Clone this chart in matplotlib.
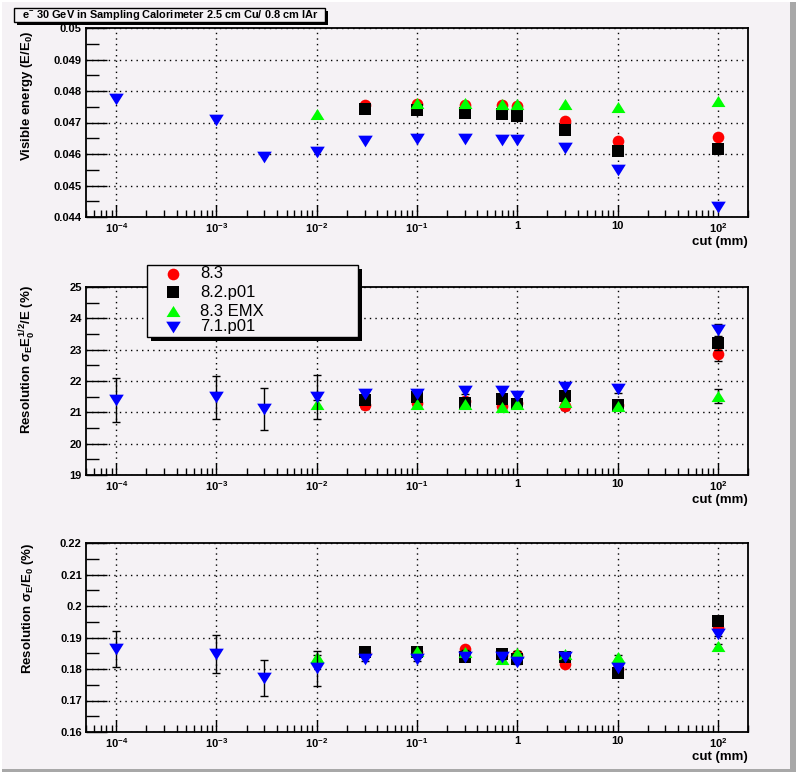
import matplotlib
matplotlib.use('Agg')
import matplotlib.pyplot as plt
from matplotlib.patches import Rectangle

plt.rcParams.update({
    'font.family': ['Liberation Sans', 'DejaVu Sans'],
    'mathtext.fontset': 'custom',
    'mathtext.rm': 'Liberation Sans:bold',
    'mathtext.it': 'Liberation Sans:bold',
    'mathtext.bf': 'Liberation Sans:bold',
    'mathtext.sf': 'Liberation Sans:bold',
})

BG = '#f5f2f5'

# cut values (mm)
X_71 = [1e-4, 1e-3, 3e-3, 1e-2, 3e-2, 0.1, 0.3, 0.7, 1, 3, 10, 100]
X_NEW = [3e-2, 0.1, 0.3, 0.7, 1, 3, 10, 100]
X_EMX = [1e-2, 0.1, 0.3, 0.7, 1, 3, 10, 100]

# visible energy E/E0
vis_83 = [0.04756, 0.04758, 0.04757, 0.04755, 0.04752, 0.04705, 0.04641, 0.04653]
vis_82 = [0.04743, 0.04740, 0.04731, 0.04727, 0.04722, 0.04676, 0.04610, 0.04617]
vis_emx = [0.04726, 0.04761, 0.04761, 0.04759, 0.04760, 0.04758, 0.04750, 0.04769]
vis_71 = [0.04776, 0.04708, 0.04590, 0.04605, 0.04641, 0.04647, 0.04647,
          0.04644, 0.04644, 0.04620, 0.04549, 0.04431]

# resolution sigma_E sqrt(E0)/E (%)
res_83 = [21.23, 21.30, 21.35, 21.20, 21.30, 21.20, 21.25, 22.85]
res_83_err = [0.12, 0.12, 0.12, 0.12, 0.12, 0.12, 0.12, 0.20]
res_82 = [21.39, 21.50, 21.29, 21.42, 21.27, 21.53, 21.23, 23.20]
res_82_err = [0.12, 0.12, 0.12, 0.12, 0.12, 0.12, 0.12, 0.20]
res_emx = [21.26, 21.27, 21.27, 21.16, 21.27, 21.34, 21.20, 21.53]
res_emx_err = [0.12, 0.12, 0.12, 0.12, 0.12, 0.12, 0.12, 0.22]
res_71 = [21.39, 21.48, 21.10, 21.48, 21.60, 21.58, 21.69, 21.69, 21.52,
          21.80, 21.74, 23.63]
res_71_err = [0.69, 0.68, 0.67, 0.70, 0.12, 0.12, 0.12, 0.12, 0.12, 0.12, 0.12, 0.20]

# resolution sigma_E/E0 (%)
sig_83 = [0.1852, 0.1855, 0.1863, 0.1845, 0.1845, 0.1816, 0.1800, 0.1929]
sig_82 = [0.1855, 0.1855, 0.1837, 0.1847, 0.1831, 0.1839, 0.1788, 0.1952]
sig_emx = [0.1839, 0.1858, 0.1855, 0.1831, 0.1850, 0.1848, 0.1839, 0.1873]
sig_71 = [0.1863, 0.1847, 0.1770, 0.1802, 0.1831, 0.1831, 0.1839, 0.1839,
          0.1823, 0.1837, 0.1802, 0.1911]
sig_new_err = [0.0006] * 8
sig_71_err = [0.0058, 0.0060, 0.0057, 0.0055] + [0.0006] * 8

XTICKS = [1e-4, 1e-3, 1e-2, 1e-1, 1, 10, 100]
XTICK_LABELS = [r'$10^{-4}$', r'$10^{-3}$', r'$10^{-2}$', r'$10^{-1}$', '1', '10', r'$10^{2}$']

# ROOT-like flat triangles
TRI_UP = [(-1, -0.8), (1, -0.8), (0, 0.8), (-1, -0.8)]
TRI_DOWN = [(-1, 0.8), (1, 0.8), (0, -0.8), (-1, 0.8)]

W, H = 796, 772
fig = plt.figure(figsize=(W / 100, H / 100), dpi=100, facecolor=BG)


def px_axes(left, top, right, bottom):
    return fig.add_axes([left / W, 1 - bottom / H, (right - left) / W, (bottom - top) / H])


def style_axes(ax, ylim, yticks, ylabels, yminor):
    ax.set_facecolor(BG)
    ax.set_xscale('log')
    ax.set_xlim(5e-5, 200)
    ax.set_ylim(*ylim)
    ax.set_xticks(XTICKS)
    ax.set_xticklabels(XTICK_LABELS)
    ax.set_yticks(yticks)
    ax.set_yticklabels(ylabels)
    ax.set_yticks(yminor, minor=True)
    ax.tick_params(axis='both', which='both', direction='in', labelsize=8)
    ax.tick_params(axis='y', which='major', length=15, width=1, pad=3)
    ax.tick_params(axis='y', which='minor', length=9, width=1)
    ax.tick_params(axis='x', which='major', length=9, width=1, pad=3)
    ax.tick_params(axis='x', which='minor', length=5, width=1)
    for lab in ax.get_xticklabels() + ax.get_yticklabels():
        lab.set_fontweight('bold')
    ax.grid(True, which='major', color='black', linestyle=(0, (1, 3)), linewidth=1)
    for sp in ax.spines.values():
        sp.set_linewidth(1.3)
    ax.text(1.0, -0.1, 'cut (mm)', transform=ax.transAxes, ha='right', va='top',
            fontsize=9.5, fontweight='bold')


def draw_series(ax, data, errs=None):
    # data: list of (x, y, color, marker, size, label)
    for i, (x, y, c, m, s, lab) in enumerate(data):
        if errs is not None:
            ax.errorbar(x, y, yerr=errs[i], fmt='none', ecolor='black', elinewidth=1,
                        capsize=3, capthick=1, zorder=3 + i)
        ax.plot(x, y, linestyle='none', marker=m, color=c, markersize=s,
                markeredgewidth=0, label=lab, zorder=3 + i)


def make_series(y83, y82, yemx, y71):
    return [
        (X_NEW, y83, '#ff0000', 'o', 8.4, '8.3'),
        (X_NEW, y82, '#000000', 's', 8.8, '8.2.p01'),
        (X_EMX, yemx, '#00ff00', TRI_UP, 10, '8.3 EMX'),
        (X_71, y71, '#0000ff', TRI_DOWN, 10.5, '7.1.p01'),
    ]


# ---------------- panel 1 ----------------
ax1 = px_axes(86, 28, 748, 217)
style_axes(ax1, (0.044, 0.05), [0.044, 0.045, 0.046, 0.047, 0.048, 0.049, 0.05],
           ['0.044', '0.045', '0.046', '0.047', '0.048', '0.049', '0.05'],
           [0.0445, 0.0455, 0.0465, 0.0475, 0.0485, 0.0495])
series1 = make_series(vis_83, vis_82, vis_emx, vis_71)
draw_series(ax1, series1)
fig.text(27 / W, 1 - 30 / H, r'Visible energy (E/E$_0$)', rotation=90, ha='center', va='top',
         fontsize=9.5, fontweight='bold')

# ---------------- panel 2 ----------------
ax2 = px_axes(86, 287, 748, 475)
style_axes(ax2, (19, 25), [19, 20, 21, 22, 23, 24, 25],
           ['19', '20', '21', '22', '23', '24', '25'],
           [19.5, 20.5, 21.5, 22.5, 23.5, 24.5])
series2 = make_series(res_83, res_82, res_emx, res_71)
draw_series(ax2, series2, [res_83_err, res_82_err, res_emx_err, res_71_err])
fig.text(28 / W, 1 - 285 / H, r'Resolution $\sigma_E E_0^{1/2}$/E (%)', rotation=90,
         ha='center', va='top', fontsize=9.5, fontweight='bold')

# ---------------- panel 3 ----------------
ax3 = px_axes(86, 543, 748, 732)
style_axes(ax3, (0.16, 0.22), [0.16, 0.17, 0.18, 0.19, 0.2, 0.21, 0.22],
           ['0.16', '0.17', '0.18', '0.19', '0.2', '0.21', '0.22'],
           [0.165, 0.175, 0.185, 0.195, 0.205, 0.215])
series3 = make_series(sig_83, sig_82, sig_emx, sig_71)
draw_series(ax3, series3, [sig_new_err, sig_new_err, sig_new_err, sig_71_err])
fig.text(28 / W, 1 - 542 / H, r'Resolution $\sigma_E$/E$_0$ (%)', rotation=90,
         ha='center', va='top', fontsize=9.5, fontweight='bold')


# ---------------- boxes (title, legend, canvas border) ----------------
def px_rect(left, top, right, bottom, **kw):
    r = Rectangle((left / W, 1 - bottom / H), (right - left) / W, (bottom - top) / H,
                  transform=fig.transFigure, **kw)
    fig.add_artist(r)
    return r


# title box with shadow
px_rect(17, 11, 328, 25, facecolor='black', edgecolor='none', zorder=20)
px_rect(14, 8, 325, 22, facecolor=BG, edgecolor='black', linewidth=1, zorder=21)
fig.text(22 / W, 1 - 15.5 / H, r'e$^{-}$ 30 GeV in Sampling Calorimeter 2.5 cm Cu/ 0.8 cm lAr',
         ha='left', va='center', fontsize=7.9, fontweight='bold', zorder=22)

# legend box with shadow
px_rect(151, 269, 362, 341, facecolor='black', edgecolor='none', zorder=20)
px_rect(147, 265, 358, 337, facecolor=BG, edgecolor='black', linewidth=1, zorder=21)
leg_rows = [274, 292, 311, 327]
for (x, y, c, m, s, lab), ry in zip(series1, leg_rows):
    fig.lines.append(plt.Line2D([173 / W], [1 - ry / H], transform=fig.transFigure,
                                linestyle='none', marker=m, color=c, markersize=s,
                                markeredgewidth=0, zorder=22))
    fig.text(200 / W, 1 - ry / H, lab, ha='left', va='center', fontsize=12, zorder=22)

# canvas bevel
px_rect(790, 0, 796, 772, facecolor='#a8a8a8', edgecolor='none', zorder=30)
px_rect(0, 769, 796, 772, facecolor='#a8a8a8', edgecolor='none', zorder=30)
px_rect(0, 0, 796, 2, facecolor='white', edgecolor='none', zorder=30)
px_rect(0, 0, 2, 772, facecolor='white', edgecolor='none', zorder=30)

fig.savefig('out.png', dpi=100, facecolor=BG)
